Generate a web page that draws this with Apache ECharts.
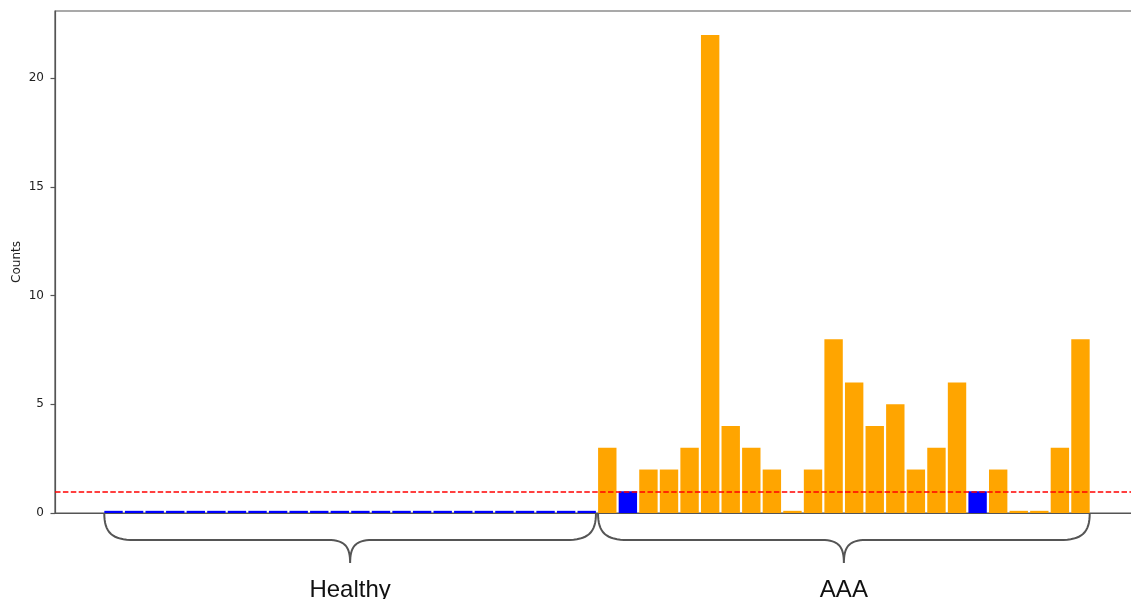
<!DOCTYPE html>
<html>
<head>
<meta charset="utf-8">
<title>Counts per subject</title>
<script src="https://cdn.jsdelivr.net/npm/echarts@6/dist/echarts.min.js"></script>
<style>
  html, body { margin: 0; padding: 0; background: #ffffff; overflow: hidden; }
  #chart { width: 1139px; height: 599px; }
</style>
</head>
<body>
<div id="chart"></div>
<script>
// Per-subject counts, grouped by cohort
const groupLabels = ['Healthy', 'AAA'];
const healthyCounts = [0.1, 0.1, 0.1, 0.1, 0.1, 0.1, 0.1, 0.1, 0.1, 0.1, 0.1, 0.1,
                       0.1, 0.1, 0.1, 0.1, 0.1, 0.1, 0.1, 0.1, 0.1, 0.1, 0.1, 0.1];
const aaaCounts = [3, 1, 2, 2, 3, 22, 4, 3, 2, 0.1, 2, 8,
                   6, 4, 5, 2, 3, 6, 1, 2, 0.1, 0.1, 3, 8];
const threshold = 1;
const yTicks = [0, 5, 10, 15, 20];

const BLUE = '#0000ff';
const ORANGE = '#ffa500';
const SPINE = '#555555';
const HALF = 0.45; // half bar width in data units

const allCounts = healthyCounts.concat(aaaCounts);
const barData = allCounts.map((v, i) => [i, v]);
const nHealthy = healthyCounts.length;

const chart = echarts.init(document.getElementById('chart'), null, { renderer: 'canvas' });

const span = allCounts.length - 1 + 2 * HALF;
const xMin = -HALF - 0.05 * span;
const xMax = allCounts.length - 1 + HALF + 0.05 * span;

chart.setOption({
  animation: false,
  backgroundColor: '#ffffff',
  grid: {
    left: 55, top: 11, right: 0, bottom: 86,
    show: true, borderColor: SPINE, borderWidth: 1.2, backgroundColor: 'transparent'
  },
  xAxis: {
    type: 'value',
    min: xMin,
    max: xMax,
    axisLine: { show: true, onZero: false, lineStyle: { color: SPINE, width: 1.2 } },
    axisTick: { show: false },
    axisLabel: { show: false },
    splitLine: { show: false }
  },
  yAxis: {
    type: 'value',
    min: 0,
    max: 23.1,
    name: 'Counts',
    nameLocation: 'middle',
    nameGap: 32,
    nameMoveOverlap: false,
    nameTextStyle: { fontFamily: 'DejaVu Sans', fontSize: 12, color: '#222' },
    axisLine: { show: true, onZero: false, lineStyle: { color: SPINE, width: 1.2 } },
    axisTick: { show: true, length: 4.5, customValues: yTicks, lineStyle: { color: SPINE, width: 1.2 } },
    axisLabel: {
      customValues: yTicks, margin: 11,
      fontFamily: 'DejaVu Sans', fontSize: 12, color: '#222'
    },
    splitLine: { show: false }
  },
  series: [{
    type: 'bar',
    data: barData,
    barWidth: 18.4,
    itemStyle: {
      color: (p) => (p.data[0] < nHealthy || p.data[1] === threshold) ? BLUE : ORANGE
    },
    markLine: {
      silent: true,
      symbol: 'none',
      label: { show: false },
      lineStyle: { color: '#ff0000', type: [5.5, 2.4], width: 1.5 },
      data: [{ yAxis: threshold }]
    }
  }]
});

// Curly braces under each cohort, with the cohort name below
function cubic(p0, p1, p2, p3, steps, out) {
  for (let k = 1; k <= steps; k++) {
    const t = k / steps, u = 1 - t;
    out.push([
      u * u * u * p0[0] + 3 * u * u * t * p1[0] + 3 * u * t * t * p2[0] + t * t * t * p3[0],
      u * u * u * p0[1] + 3 * u * u * t * p1[1] + 3 * u * t * t * p2[1] + t * t * t * p3[1]
    ]);
  }
}

function bracePoints(x0, x1, yTop, yMid, yTip) {
  const xm = (x0 + x1) / 2;
  const r = 30, rm = 22;
  const pts = [[x0, yTop]];
  cubic([x0, yTop], [x0, yTop + 20], [x0 + 8, yMid], [x0 + r, yMid], 16, pts);
  pts.push([xm - rm, yMid]);
  cubic([xm - rm, yMid], [xm - 5, yMid], [xm, yMid + 7], [xm, yTip], 16, pts);
  cubic([xm, yTip], [xm, yMid + 7], [xm + 5, yMid], [xm + rm, yMid], 16, pts);
  pts.push([x1 - r, yMid]);
  cubic([x1 - r, yMid], [x1 - 8, yMid], [x1, yTop + 20], [x1, yTop], 16, pts);
  return pts;
}

const groups = [
  { label: groupLabels[0], from: 0, to: nHealthy - 1 },
  { label: groupLabels[1], from: nHealthy, to: allCounts.length - 1 }
];
const yZero = chart.convertToPixel({ yAxisIndex: 0 }, 0);
const graphics = [];
groups.forEach((g) => {
  const x0 = chart.convertToPixel({ xAxisIndex: 0 }, g.from - HALF);
  const x1 = chart.convertToPixel({ xAxisIndex: 0 }, g.to + HALF);
  graphics.push({
    type: 'polyline',
    shape: { points: bracePoints(x0, x1, yZero, yZero + 27, yZero + 50) },
    style: { fill: null, stroke: SPINE, lineWidth: 2 }
  });
  graphics.push({
    type: 'text',
    x: (x0 + x1) / 2,
    y: yZero + 77,
    style: {
      text: g.label, fontFamily: 'Liberation Sans', fontSize: 24,
      fill: '#111', align: 'center', verticalAlign: 'middle'
    }
  });
});
chart.setOption({ graphic: graphics });
</script>
</body>
</html>
